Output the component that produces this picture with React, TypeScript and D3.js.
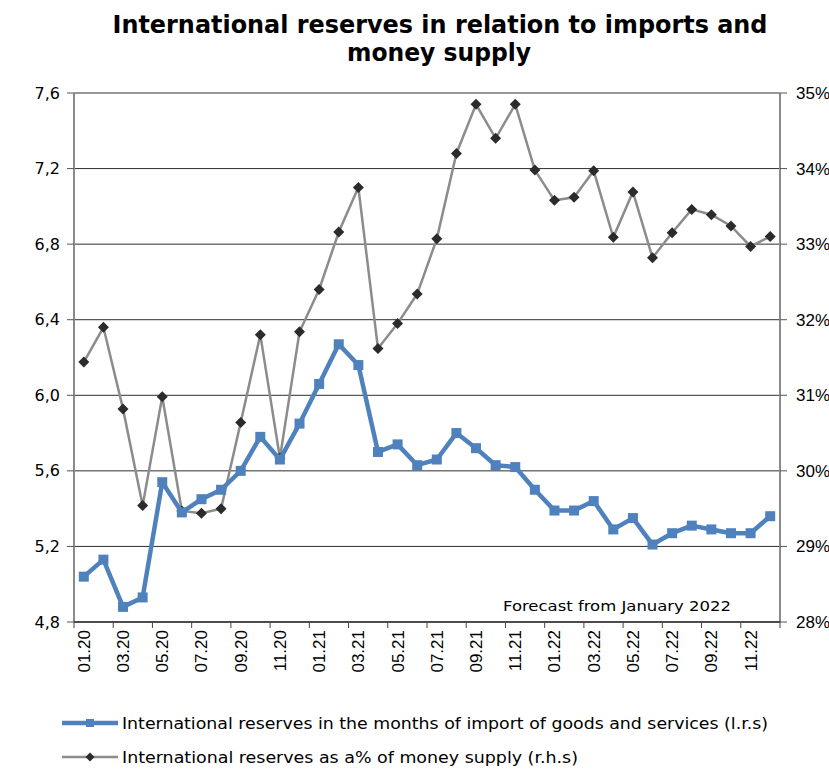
import React from "react";
import * as d3 from "d3";

const months = ["01.20","02.20","03.20","04.20","05.20","06.20","07.20","08.20","09.20","10.20","11.20","12.20",
  "01.21","02.21","03.21","04.21","05.21","06.21","07.21","08.21","09.21","10.21","11.21","12.21",
  "01.22","02.22","03.22","04.22","05.22","06.22","07.22","08.22","09.22","10.22","11.22","12.22"];

const reservesMonths = [5.04, 5.13, 4.88, 4.93, 5.54, 5.38, 5.45, 5.50, 5.60, 5.78, 5.66, 5.85,
  6.06, 6.27, 6.16, 5.70, 5.74, 5.63, 5.66, 5.80, 5.72, 5.63, 5.62, 5.50,
  5.39, 5.39, 5.44, 5.29, 5.35, 5.21, 5.27, 5.31, 5.29, 5.27, 5.27, 5.36];

const reservesPct = [31.44, 31.90, 30.82, 29.54, 30.98, 29.47, 29.44, 29.50, 30.64, 31.80, 30.17, 31.84,
  32.40, 33.16, 33.75, 31.62, 31.95, 32.34, 33.07, 34.20, 34.85, 34.40, 34.85, 33.98,
  33.58, 33.62, 33.97, 33.09, 33.69, 32.82, 33.15, 33.46, 33.39, 33.24, 32.97, 33.10];

const leftTicks = [4.8, 5.2, 5.6, 6.0, 6.4, 6.8, 7.2, 7.6];
const rightTicks = [28, 29, 30, 31, 32, 33, 34, 35];

const titleLines = ["International reserves in relation to imports and", "money supply"];
const legendLabels = [
  "International reserves in the months of import of goods and services (l.r.s)",
  "International reserves as a% of money supply (r.h.s)",
];
const noteText = "Forecast from January 2022";

const W = 829, H = 769;
const L = 74, R = 780, T = 93, B = 622;
const BLUE = "#4F81BD";
const DIA = "M0,-5.5L5.5,0L0,5.5L-5.5,0Z";

export default function App() {
  const x = d3.scaleBand<string>().domain(months).range([L, R]).padding(0);
  const yL = d3.scaleLinear().domain([4.8, 7.6]).range([B, T]);
  const yR = d3.scaleLinear().domain([28, 35]).range([B, T]);
  const cx = (m: string) => (x(m) as number) + x.bandwidth() / 2;

  const blueLine = d3.line<number>().x((_, i) => cx(months[i])).y((d) => yL(d))(reservesMonths) as string;
  const grayLine = d3.line<number>().x((_, i) => cx(months[i])).y((d) => yR(d))(reservesPct) as string;
  const fmt = (v: number) => v.toFixed(1).replace(".", ",");

  const boundaries = d3.range(0, months.length + 1, 2).map((i) => L + i * x.bandwidth());

  return (
    <svg width={W} height={H} style={{ position: "absolute", left: 0, top: 0, background: "#fff" }}>
      <g fontFamily="DejaVu Sans" fontWeight="bold" fontSize={25} textAnchor="middle" fill="#000">
        <text x={440} y={33} textLength={655} lengthAdjust="spacingAndGlyphs">{titleLines[0]}</text>
        <text x={439} y={61} textLength={184} lengthAdjust="spacingAndGlyphs">{titleLines[1]}</text>
      </g>

      {leftTicks.map((t) => (
        <line key={"g" + t} x1={L} x2={R} y1={yL(t)} y2={yL(t)} stroke="#2e2e2e" strokeWidth={1} />
      ))}
      <line x1={L} x2={L} y1={T} y2={B} stroke="#8a8a8a" strokeWidth={2} />
      {leftTicks.map((t) => (
        <g key={"l" + t}>
          <line x1={L - 7} x2={L} y1={yL(t)} y2={yL(t)} stroke="#555" strokeWidth={1} />
          <text x={60} y={yL(t)} dy="0.35em" textAnchor="end" fontFamily="DejaVu Sans" fontSize={16} fill="#000">{fmt(t)}</text>
        </g>
      ))}
      <line x1={R} x2={R} y1={T} y2={B} stroke="#8a8a8a" strokeWidth={2} />
      {rightTicks.map((t) => (
        <g key={"r" + t}>
          <line x1={R} x2={R + 7} y1={yR(t)} y2={yR(t)} stroke="#555" strokeWidth={1} />
          <text x={796} y={yR(t)} dy="0.35em" textAnchor="start" fontFamily="Liberation Sans" fontSize={17} fill="#000">{t + "%"}</text>
        </g>
      ))}
      <line x1={L} x2={R} y1={B} y2={B} stroke="#333" strokeWidth={1.5} />
      {boundaries.map((bx, i) => (
        <line key={"b" + i} x1={bx} x2={bx} y1={B} y2={B + 6} stroke="#444" strokeWidth={1} />
      ))}
      {months.map((m, i) =>
        i % 2 === 0 ? (
          <text key={m} transform={`translate(${cx(m)},${630}) rotate(-90)`} dy="0.35em" textAnchor="end"
            fontFamily="Liberation Sans" fontSize={17} fill="#000">{m}</text>
        ) : null
      )}

      <text x={503} y={611} fontFamily="DejaVu Sans" fontSize={14} textLength={228} lengthAdjust="spacingAndGlyphs" fill="#000">{noteText}</text>

      <path d={grayLine} fill="none" stroke="#8c8c8c" strokeWidth={2.5} />
      {reservesPct.map((v, i) => (
        <path key={"d" + i} d={DIA} transform={`translate(${cx(months[i])},${yR(v)})`} fill="#2b2b2b" />
      ))}

      <path d={blueLine} fill="none" stroke={BLUE} strokeWidth={4.5} strokeLinejoin="round" />
      {reservesMonths.map((v, i) => (
        <rect key={"s" + i} x={cx(months[i]) - 5} y={yL(v) - 5} width={10} height={10} fill={BLUE} />
      ))}

      <line x1={62} x2={118} y1={723} y2={723} stroke={BLUE} strokeWidth={4.5} />
      <rect x={86} y={719} width={8} height={8} fill={BLUE} />
      <text x={122} y={729} fontFamily="DejaVu Sans" fontSize={16} textLength={646} lengthAdjust="spacingAndGlyphs" fill="#000">{legendLabels[0]}</text>
      <line x1={62} x2={118} y1={757} y2={757} stroke="#8c8c8c" strokeWidth={2.5} />
      <path d="M0,-4.5L4.5,0L0,4.5L-4.5,0Z" transform="translate(90,757)" fill="#2b2b2b" />
      <text x={122} y={763} fontFamily="DejaVu Sans" fontSize={16} textLength={456} lengthAdjust="spacingAndGlyphs" fill="#000">{legendLabels[1]}</text>
    </svg>
  );
}
